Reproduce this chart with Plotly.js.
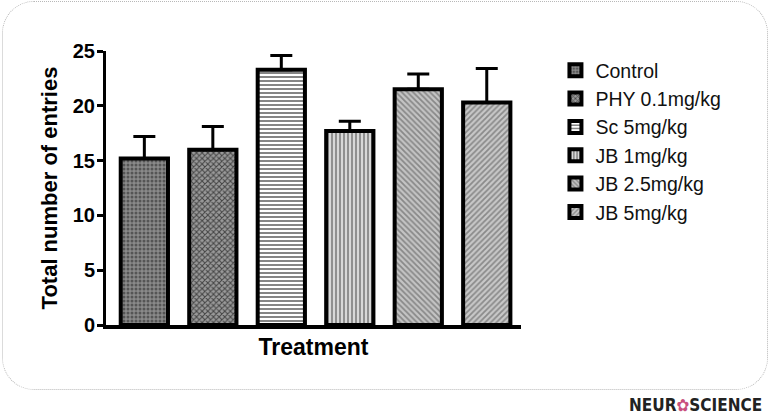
<!DOCTYPE html>
<html>
<head>
<meta charset="utf-8">
<script src="https://cdn.plot.ly/plotly-3.0.1.min.js"></script>
<style>
  html, body { margin: 0; padding: 0; background: #fff; }
  #wrap { position: relative; width: 770px; height: 417px; }
  #frame {
    position: absolute; left: 2px; top: 1px; width: 764px; height: 387px;
    border: 1px dotted #b8b8b8; border-radius: 32px;
  }
  #chart { position: absolute; left: 0; top: 0; width: 770px; height: 417px; }
</style>
</head>
<body>
<div id="wrap">
  <div id="frame"></div>
  <div id="chart"></div>
</div>
<script>
// groups, means and upper SEM
const groups = ['Control', 'PHY 0.1mg/kg', 'Sc 5mg/kg', 'JB 1mg/kg', 'JB 2.5mg/kg', 'JB 5mg/kg'];
const means = [15.2, 16.0, 23.3, 17.7, 21.5, 20.3];
const sem = [2.0, 2.1, 1.3, 0.9, 1.4, 3.1];
const yTicks = [0, 5, 10, 15, 20, 25];

const fills = ['#8a8a8a', '#9a9a9a', '#ffffff', '#d8d8d8', '#c4c4c4', '#c8c8c8'];
const patterns = ['.', 'x', '-', '|', '\\', '/'];
const patColors = ['#555', '#444', '#777', '#888', '#888', '#8a8a8a'];

const traces = groups.map((g, i) => ({
  type: 'bar',
  name: g,
  x: [g],
  y: [means[i]],
  width: 0.69,
  marker: {
    color: fills[i],
    line: { color: '#000', width: 4 },
    pattern: { shape: patterns[i], fgcolor: patColors[i], bgcolor: fills[i], size: 4, solidity: 0.45 }
  },
  error_y: {
    type: 'data', symmetric: false, array: [sem[i]], arrayminus: [0],
    color: '#000', thickness: 3, width: 11
  }
}));

Plotly.newPlot('chart', traces, {
  width: 770,
  height: 417,
  margin: { l: 106, r: 249, t: 51, b: 92 },
  paper_bgcolor: 'rgba(0,0,0,0)',
  plot_bgcolor: 'rgba(0,0,0,0)',
  font: { family: 'Liberation Sans, Arial, sans-serif', color: '#000' },
  barmode: 'overlay',
  showlegend: true,
  legend: {
    x: 1.083, y: 1.0, xanchor: 'left', yanchor: 'top',
    font: { size: 19.5, color: '#111' },
    tracegroupgap: 0
  },
  xaxis: {
    type: 'category',
    range: [-0.56, 5.5],
    showticklabels: false,
    ticks: '',
    showgrid: false,
    zeroline: false,
    showline: true, linecolor: '#000', linewidth: 4,
    title: { text: '<b>Treatment</b>', font: { size: 23 }, standoff: 12 }
  },
  yaxis: {
    range: [0, 25],
    tickvals: yTicks,
    ticktext: yTicks.map(v => '<b>' + v + '</b>'),
    ticks: 'outside', ticklen: 6, tickwidth: 3, tickcolor: '#000',
    tickfont: { size: 20, family: 'Liberation Sans, Arial, sans-serif' },
    ticklabelstandoff: -2,
    showgrid: false,
    zeroline: false,
    showline: true, linecolor: '#000', linewidth: 3,
    title: { text: '<b>Total number of entries</b>', font: { size: 22 }, standoff: 10 }
  },
  annotations: [{
    xref: 'paper', yref: 'paper',
    x: 1.585, y: -0.292, xanchor: 'right', yanchor: 'middle',
    showarrow: false,
    text: '<b>NEUR<span style="color:#c9507e">✿</span>SCIENCE</b>',
    font: { size: 17, color: '#222', family: 'DejaVu Sans Condensed, Liberation Sans Narrow, sans-serif' }
  }]
}, { displayModeBar: false });
</script>
</body>
</html>
